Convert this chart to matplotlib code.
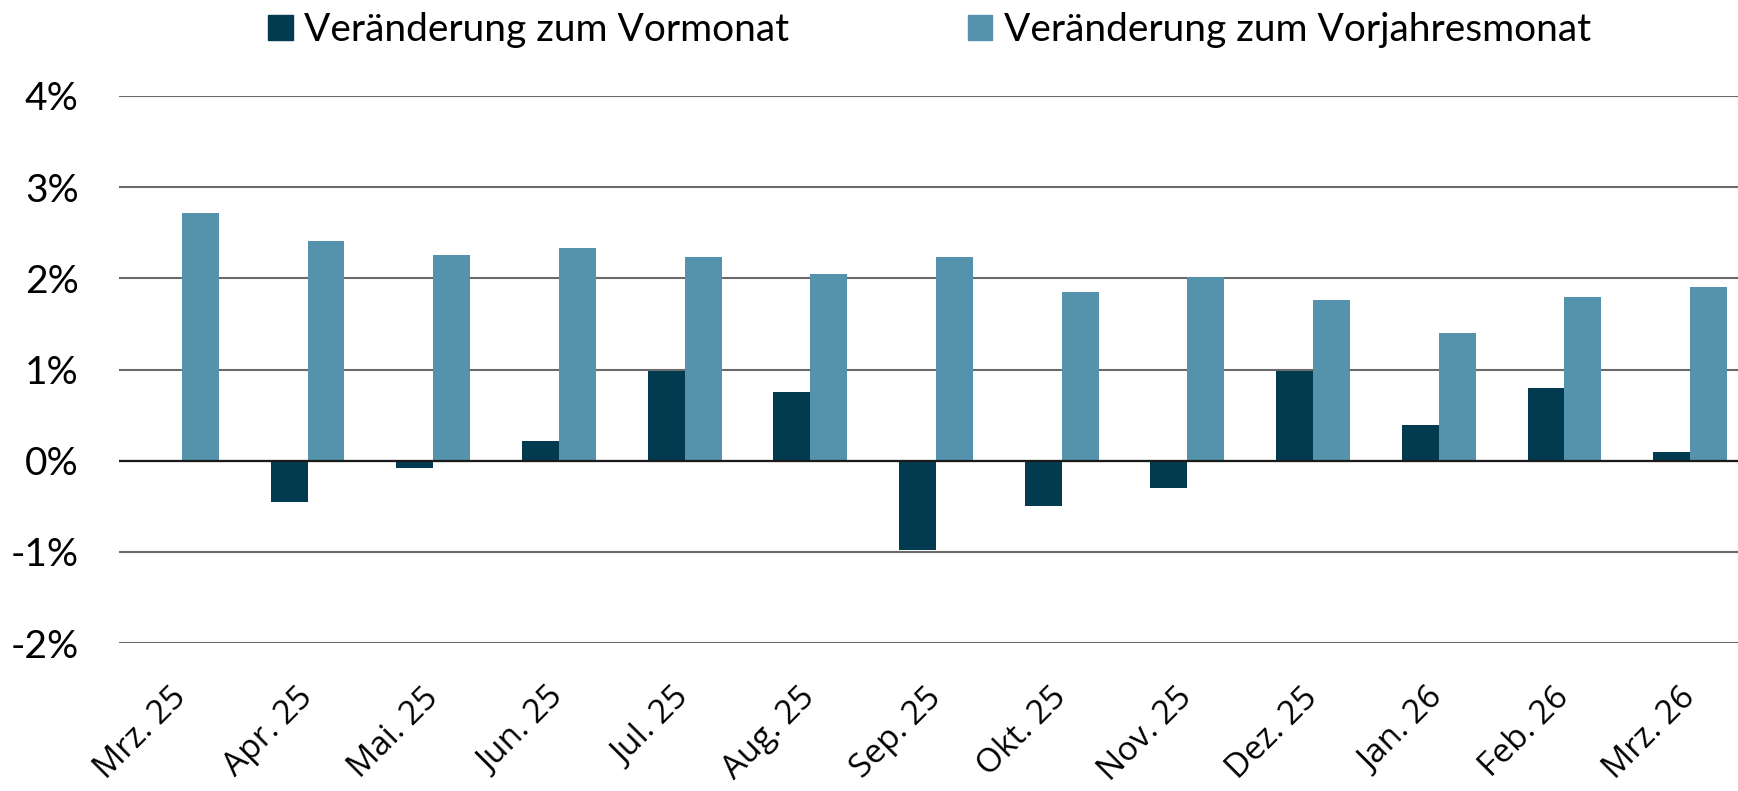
import numpy as np
import matplotlib.pyplot as plt
from matplotlib.patches import Patch

monate = ['Mrz. 25', 'Apr. 25', 'Mai. 25', 'Jun. 25', 'Jul. 25', 'Aug. 25', 'Sep. 25',
          'Okt. 25', 'Nov. 25', 'Dez. 25', 'Jan. 26', 'Feb. 26', 'Mrz. 26']
# Veränderung zum Vormonat (%)
vormonat = [0.0, -0.45, -0.08, 0.22, 0.98, 0.75, -0.98, -0.5, -0.3, 0.98, 0.39, 0.8, 0.09]
# Veränderung zum Vorjahresmonat (%)
vorjahr = [2.72, 2.41, 2.26, 2.33, 2.23, 2.05, 2.23, 1.85, 2.02, 1.76, 1.4, 1.8, 1.9]

dunkel = '#023b50'
hell = '#5593ac'

fig = plt.figure(figsize=(17.38, 7.91), dpi=100)
ax = fig.add_axes([119 / 1738, 1 - 643 / 791, (1753 - 119) / 1738, (643 - 96) / 791])

x = np.arange(len(monate))
w = 0.294
ax.bar(x - w / 2, vormonat, w, color=dunkel, zorder=3)
ax.bar(x + w / 2, vorjahr, w, color=hell, zorder=3)

ax.set_xlim(-0.5, len(monate) - 0.5)
ax.set_ylim(-2, 4)
ax.set_yticks(range(-2, 5))
ax.set_yticklabels([f'{v}%' for v in range(-2, 5)], fontsize=28, family='Lato')
ax.yaxis.grid(True, color='#6a6a6a', lw=1.5, zorder=0)
ax.axhline(0, color='#1a1a1a', lw=1.6, zorder=4)
for s in ax.spines.values():
    s.set_visible(False)
ax.tick_params(axis='y', length=0, pad=29)
ax.tick_params(axis='x', length=0, pad=36)

ax.set_xticks(x)
ax.set_xticklabels(monate, rotation=45, ha='right', va='center', rotation_mode='anchor',
                   fontsize=24, family='Open Sans')

handles = [Patch(color=dunkel, label='Veränderung zum Vormonat'),
           Patch(color=hell, label='Veränderung zum Vorjahresmonat')]
fig.legend(handles=handles, loc='center', bbox_to_anchor=(0.535, 0.962), ncol=2,
           frameon=False, prop={'family': 'Lato', 'size': 28},
           handlelength=0.62, handleheight=0.62, handletextpad=0.3, columnspacing=4.6)

fig.savefig('out.png', dpi=100)
